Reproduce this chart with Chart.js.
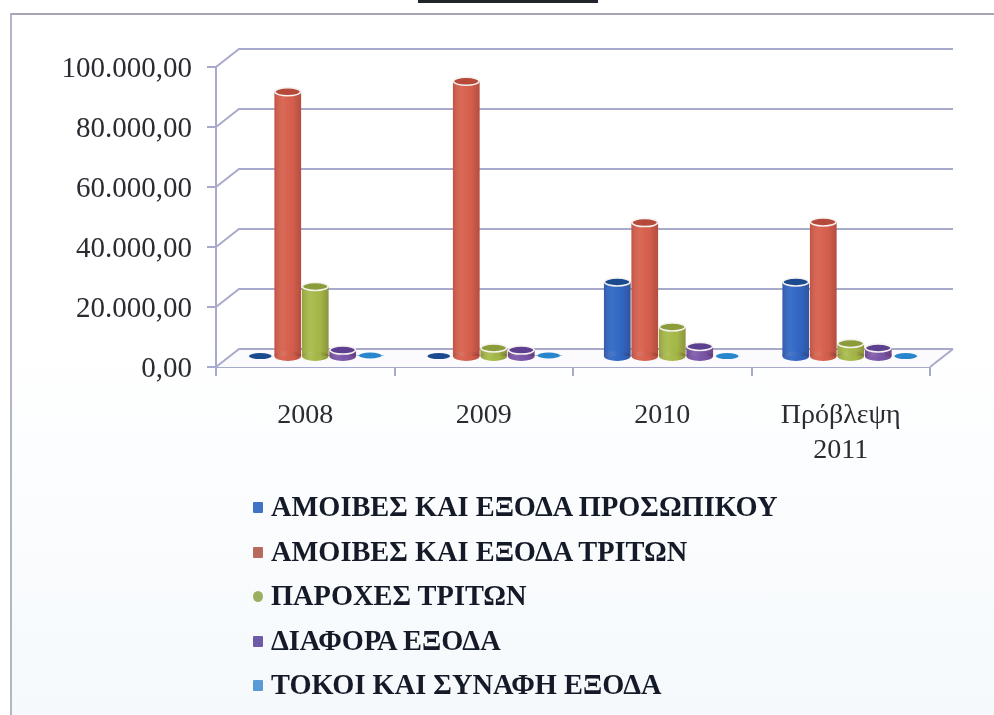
<!DOCTYPE html>
<html>
<head>
<meta charset="utf-8">
<script src="https://cdn.jsdelivr.net/npm/chart.js@4"></script>
<style>
  html, body { margin: 0; padding: 0; background: #fff; }
  #page { position: relative; width: 994px; height: 715px; overflow: hidden; }
  #frame { position: absolute; left: 10px; top: 13px; width: 990px; height: 710px;
           border-left: 2px solid #b3b6c6; border-top: 2px solid #a4a6b4;
           background: linear-gradient(#ffffff 45%, #f5f9fc 100%); }
  #topbar { position: absolute; left: 418px; top: 0; width: 180px; height: 3px; background: #22242c; }
  #chart { position: absolute; left: 0; top: 0; filter: blur(0.6px); }
  #legend { position: absolute; left: 253px; top: 485px; font: bold 28.4px "Liberation Serif", serif; color: #141a28; filter: blur(0.5px); }
  #legend div { height: 44.5px; line-height: 44.5px; white-space: nowrap; }
  #legend i { display: inline-block; width: 10px; height: 11px; margin-right: 8px; vertical-align: 3px; border-radius: 1px; }
</style>
</head>
<body>
<div id="page">
  <div id="frame"></div>
  <div id="topbar"></div>
  <canvas id="chart" width="994" height="715"></canvas>
  <div id="legend"></div>
</div>
<script>
const categories = ['2008', '2009', '2010', ['Πρόβλεψη', '2011']];
const seriesNames = ['ΑΜΟΙΒΕΣ ΚΑΙ ΕΞΟΔΑ ΠΡΟΣΩΠΙΚΟΥ', 'ΑΜΟΙΒΕΣ ΚΑΙ ΕΞΟΔΑ ΤΡΙΤΩΝ', 'ΠΑΡΟΧΕΣ ΤΡΙΤΩΝ', 'ΔΙΑΦΟΡΑ ΕΞΟΔΑ', 'ΤΟΚΟΙ ΚΑΙ ΣΥΝΑΦΗ ΕΞΟΔΑ'];
const personnel = [300, 300, 25000, 25000];
const thirdParty = [88400, 91900, 44800, 45000];
const services = [23500, 3000, 10000, 4500];
const other = [2300, 2300, 3500, 3000];
const interest = [500, 500, 300, 300];
const yTickLabels = ['0,00', '20.000,00', '40.000,00', '60.000,00', '80.000,00', '100.000,00'];

const barColors = ['#2f68c6', '#d8604c', '#a6bb48', '#7b56aa', '#2f8bd6'];
const capColors = ['#1c4a8e', '#b5493a', '#8b9c3a', '#5e4090', '#2a86cc'];
const legendColors = ['#3f74c4', '#b86a5e', '#9ab060', '#6f5aa8', '#5b9bd5'];
const gridColor = '#a8aacb';
const depthX = 23, depthY = 18;   // 3D offset of the back wall
const barShiftX = 10, barShiftY = 10;

// back wall, floor and the slanted gridline ends
const depthPlugin = {
  id: 'depth',
  beforeDatasetsDraw(chart) {
    const c = chart.ctx, y = chart.scales.y, a = chart.chartArea;
    c.save();
    c.fillStyle = '#fbfbfe';
    c.strokeStyle = gridColor;
    c.lineWidth = 2;
    c.beginPath();
    c.moveTo(a.left, a.bottom);
    c.lineTo(a.left + depthX, a.bottom - depthY);
    c.lineTo(a.right + depthX, a.bottom - depthY);
    c.lineTo(a.right, a.bottom);
    c.closePath();
    c.fill();
    y.ticks.forEach(t => {
      const py = y.getPixelForValue(t.value);
      c.beginPath();
      c.moveTo(a.left, py);
      c.lineTo(a.left + depthX, py - depthY);
      c.lineTo(a.right + depthX, py - depthY);
      c.stroke();
    });
    c.beginPath();
    c.moveTo(a.right, a.bottom);
    c.lineTo(a.right + depthX, a.bottom - depthY);
    c.stroke();
    c.restore();
    c.save();
    c.translate(barShiftX, -barShiftY);
  },
  afterDatasetsDraw(chart) {
    const c = chart.ctx;
    chart.data.datasets.forEach((ds, i) => {
      chart.getDatasetMeta(i).data.forEach(bar => {
        const tiny = bar.base - bar.y < 3;
        const w = tiny ? bar.width - 3 : bar.width, l = bar.x - w / 2, ry = tiny ? 3 : 4;
        const shade = c.createLinearGradient(l, 0, l + w, 0);
        shade.addColorStop(0, 'rgba(70,20,30,0.16)');
        shade.addColorStop(0.35, 'rgba(255,255,255,0.05)');
        shade.addColorStop(0.7, 'rgba(60,20,30,0.03)');
        shade.addColorStop(1, 'rgba(60,20,30,0.24)');
        if (!tiny) {
          // rounded foot
          c.fillStyle = barColors[i];
          c.beginPath();
          c.ellipse(bar.x, bar.base, w / 2, ry + 1, 0, 0, Math.PI * 2);
          c.fill();
          c.fillStyle = shade;
          c.fill();
          c.fillRect(l, bar.y, w, bar.base - bar.y);
        }
        // top cap with the light rim
        c.fillStyle = capColors[i];
        c.strokeStyle = '#f6f2f0';
        c.lineWidth = 1.5;
        c.beginPath();
        c.ellipse(bar.x, bar.y, w / 2 - 0.5, ry, 0, 0, Math.PI * 2);
        c.fill();
        if (!tiny) c.stroke();
      });
    });
    c.restore();
  }
};

const sets = [personnel, thirdParty, services, other, interest];

new Chart(document.getElementById('chart'), {
  type: 'bar',
  plugins: [depthPlugin],
  data: {
    labels: categories,
    datasets: sets.map((values, i) => ({
      label: seriesNames[i],
      data: values,
      backgroundColor: barColors[i],
      borderWidth: 0,
      clip: false,
      categoryPercentage: 0.77,
      barPercentage: 0.97
    }))
  },
  options: {
    responsive: false,
    animation: false,
    layout: { padding: { top: 67, right: 64, left: 0, bottom: 0 } },
    plugins: { legend: { display: false }, tooltip: { enabled: false } },
    scales: {
      x: {
        afterFit(s) { s.height = 348; },
        border: { color: gridColor, width: 2 },
        grid: { drawOnChartArea: false, color: gridColor, tickLength: 9, lineWidth: 2 },
        ticks: { color: '#2a2c32', padding: 22, maxRotation: 0, font: { family: '"Liberation Serif", serif', size: 28, lineHeight: 1.25 } }
      },
      y: {
        min: 0,
        max: 100000,
        afterFit(s) { s.width = 216; },
        border: { color: gridColor, width: 2 },
        grid: { drawOnChartArea: false, color: gridColor, tickLength: 9, lineWidth: 2 },
        ticks: {
          stepSize: 20000,
          color: '#2a2c32',
          padding: 15,
          labelOffset: 2,
          font: { family: '"Liberation Serif", serif', size: 29 },
          callback: (v, i) => yTickLabels[i]
        }
      }
    }
  }
});

const legend = document.getElementById('legend');
seriesNames.forEach((name, i) => {
  const row = document.createElement('div');
  const box = document.createElement('i');
  box.style.background = legendColors[i];
  if (i === 2) box.style.borderRadius = '50%';
  row.appendChild(box);
  row.appendChild(document.createTextNode(name));
  legend.appendChild(row);
});
</script>
</body>
</html>
